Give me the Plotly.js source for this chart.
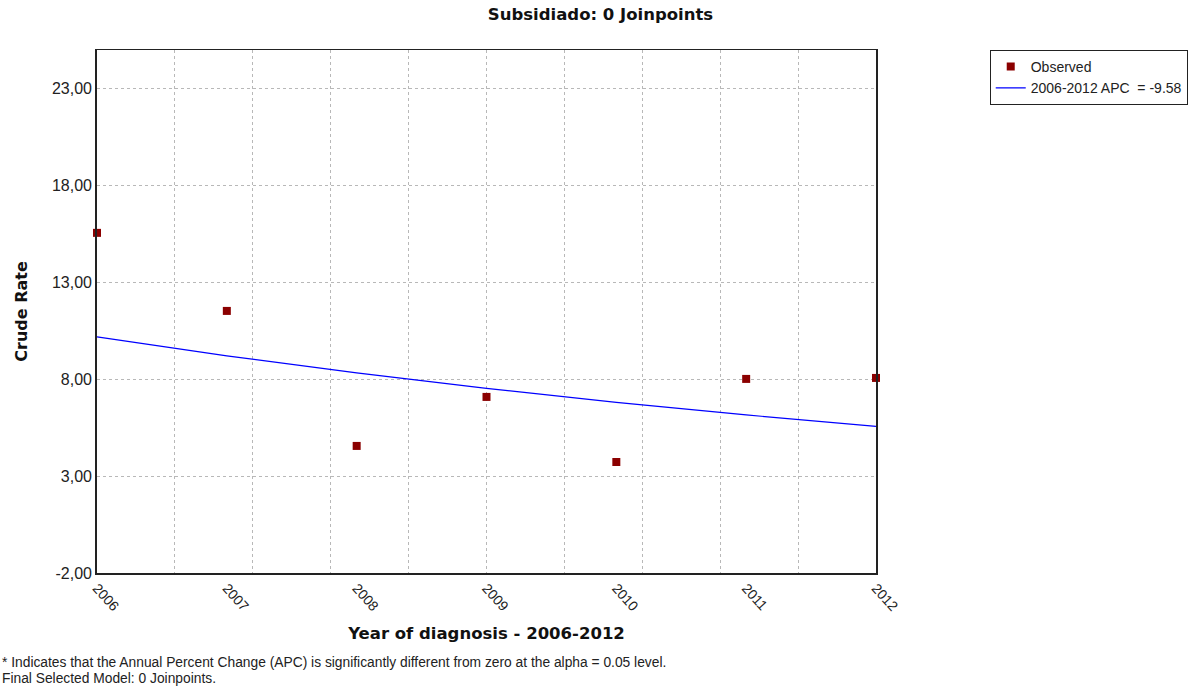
<!DOCTYPE html>
<html>
<head>
<meta charset="utf-8">
<script src="https://cdn.plot.ly/plotly-3.0.1.min.js"></script>
<style>html,body{margin:0;padding:0;background:#fff;}#chart{width:1201px;height:690px;}</style>
</head>
<body>
<div id="chart"></div>
<script>
var years = [2006, 2007, 2008, 2009, 2010, 2011, 2012];
var observed = [15.56, 11.53, 4.56, 7.09, 3.73, 8.02, 8.07];
var fitted = [10.19, 9.21, 8.33, 7.53, 6.81, 6.16, 5.57];
var yTicks = [-2, 3, 8, 13, 18, 23];
var yTickLabels = ['-2,00', '3,00', '8,00', '13,00', '18,00', '23,00'];
var xTickLabels = ['2006', '2007', '2008', '2009', '2010', '2011', '2012'];

var traces = [
  {x: years, y: observed, type: 'scatter', mode: 'markers', name: 'Observed',
   marker: {symbol: 'square', size: 8, color: '#8B0000'}, cliponaxis: false},
  {x: years, y: fitted, type: 'scatter', mode: 'lines', name: '2006-2012 APC  = -9.58',
   line: {color: '#0000FF', width: 1.2}}
];

var boldFont = 'DejaVu Sans, Verdana, sans-serif';
var layout = {
  width: 1201, height: 690,
  margin: {l: 97, r: 325, t: 50, b: 117},
  paper_bgcolor: '#fff', plot_bgcolor: '#fff',
  font: {family: 'Liberation Sans, Arial, sans-serif', size: 14, color: '#222'},
  title: {text: 'Subsidiado: 0 Joinpoints', x: 0.5, xref: 'container', xanchor: 'center', y: 0.988, yanchor: 'top',
          font: {family: boldFont, size: 16.5, color: '#111', weight: 'bold'}},
  xaxis: {
    range: [2006, 2012], tickvals: years, ticktext: xTickLabels, tickangle: 48,
    showgrid: false, zeroline: false, showline: true, linecolor: '#222', linewidth: 1.5, mirror: true,
    ticks: '', tickfont: {size: 14, color: '#222'},
    minor: {tick0: 2006, dtick: 0.6, showgrid: true, gridcolor: '#b8b8b8', griddash: 'dot', gridwidth: 1},
    title: {text: 'Year of diagnosis - 2006-2012', standoff: 14,
            font: {family: boldFont, size: 16.5, color: '#111', weight: 'bold'}}
  },
  yaxis: {
    range: [-2, 25], tickvals: yTicks, ticktext: yTickLabels,
    showgrid: true, gridcolor: '#b8b8b8', griddash: 'dot', gridwidth: 1,
    zeroline: false, showline: true, linecolor: '#222', linewidth: 1.8, mirror: true,
    ticks: '', tickfont: {size: 16, color: '#222'},
    title: {text: 'Crude Rate', standoff: 20,
            font: {family: boldFont, size: 16, color: '#111', weight: 'bold'}}
  },
  legend: {x: 1.146, xanchor: 'left', y: 1.0, yanchor: 'top', bordercolor: '#222', borderwidth: 1,
           bgcolor: '#fff', font: {size: 14, color: '#222'}, tracegroupgap: 0},
  showlegend: true,
  annotations: [
    {text: '* Indicates that the Annual Percent Change (APC) is significantly different from zero at the alpha = 0.05 level.',
     xref: 'paper', yref: 'paper', x: -0.1245, y: -0.172, xanchor: 'left', yanchor: 'middle', showarrow: false,
     font: {family: 'Liberation Sans Narrow, Arial Narrow, Liberation Sans, sans-serif', size: 13.8, color: '#222'}},
    {text: 'Final Selected Model: 0 Joinpoints.',
     xref: 'paper', yref: 'paper', x: -0.1245, y: -0.202, xanchor: 'left', yanchor: 'middle', showarrow: false,
     font: {family: 'Liberation Sans Narrow, Arial Narrow, Liberation Sans, sans-serif', size: 13.8, color: '#222'}}
  ]
};

Plotly.newPlot('chart', traces, layout, {displayModeBar: false, staticPlot: true});
</script>
</body>
</html>
